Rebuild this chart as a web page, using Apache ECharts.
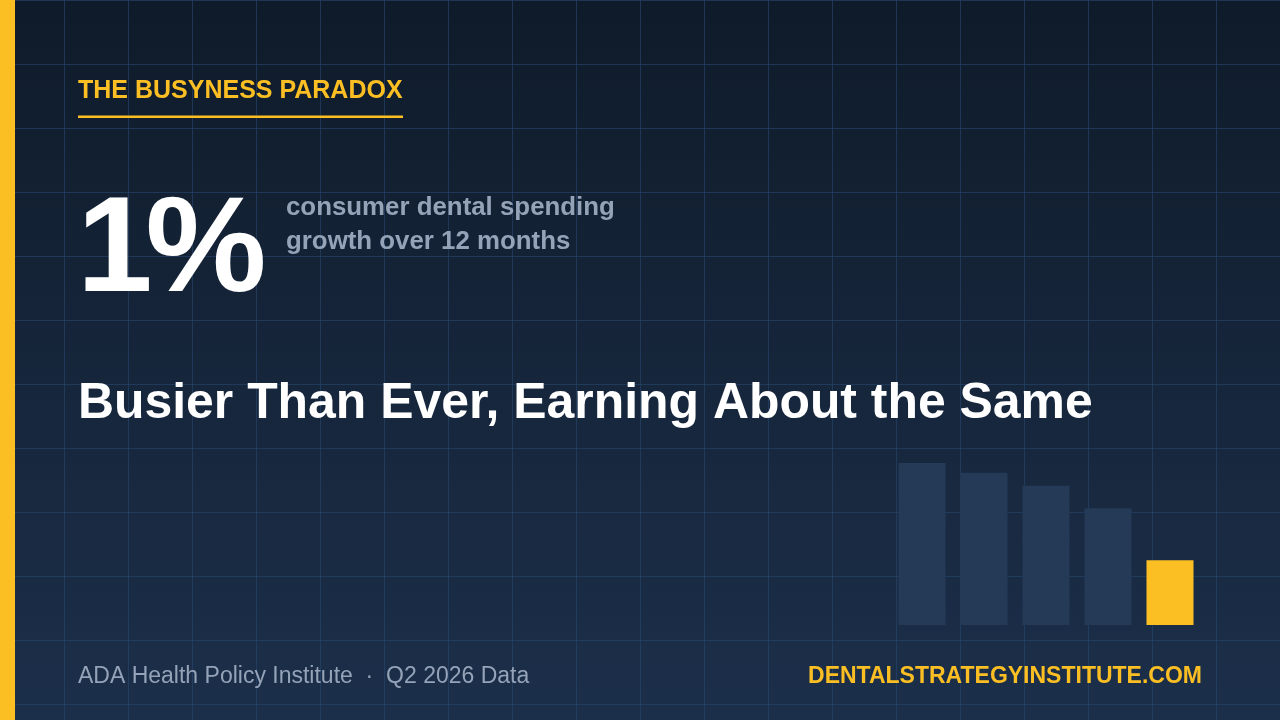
<!DOCTYPE html>
<html>
<head>
<meta charset="utf-8">
<script src="https://cdn.jsdelivr.net/npm/echarts@6/dist/echarts.min.js"></script>
<style>
html,body{margin:0;padding:0;background:#0f1b2b;}
#chart{width:1280px;height:720px;}
</style>
</head>
<body>
<div id="chart"></div>
<script>
// ---- data ----
var categories = ['P1', 'P2', 'P3', 'P4', 'P5'];
var barValues = [100, 94, 86, 72, 40];
var highlightIndex = 4;
var kicker = 'THE BUSYNESS PARADOX';
var bigStatNumber = '1';
var bigStatUnit = '%';
var statLines = ['consumer dental spending', 'growth over 12 months'];
var headline = 'Busier Than Ever, Earning About the Same';
var sourceText = 'ADA Health Policy Institute  \u00b7  Q2 2026 Data';
var siteText = 'DENTALSTRATEGYINSTITUTE.COM';

var W = 1280, H = 720;
var YELLOW = '#fbbf24';
var SLATE = '#94a3b8';
var FONT = 'Liberation Sans';

var chart = echarts.init(document.getElementById('chart'), null, {renderer: 'canvas'});

function txt(text, x, y, size, weight, color, align) {
  return {type: 'text', z: 10, silent: true,
    style: {text: text, x: x, y: y + size * 0.07, fill: color,
      fontFamily: FONT, fontSize: size, fontWeight: weight,
      textAlign: align || 'left', textVerticalAlign: 'middle'}};
}

var graphics = [];
graphics.push({
  type: 'rect', z: -100, silent: true,
  shape: {x: 0, y: 0, width: W, height: H},
  style: {fill: new echarts.graphic.LinearGradient(0, 0, 0, 1, [
    {offset: 0, color: '#0f1b2a'},
    {offset: 1, color: '#1c2f4a'}
  ])}
});
var lineColor = 'rgba(40,72,112,0.6)';
for (var x = 0; x <= W; x += 64) {
  graphics.push({type: 'line', z: -90, silent: true,
    shape: {x1: x + 0.5, y1: 0, x2: x + 0.5, y2: H},
    style: {stroke: lineColor, lineWidth: 1}});
}
for (var y = 0; y <= H; y += 64) {
  graphics.push({type: 'line', z: -90, silent: true,
    shape: {x1: 0, y1: y + 0.5, x2: W, y2: y + 0.5},
    style: {stroke: lineColor, lineWidth: 1}});
}
graphics.push({type: 'rect', z: 10, silent: true,
  shape: {x: 0, y: 0, width: 15, height: H}, style: {fill: YELLOW}});

graphics.push(txt(kicker, 78, 89, 25, 'bold', YELLOW));
graphics.push({type: 'rect', z: 10, silent: true,
  shape: {x: 78, y: 115.5, width: 325, height: 2.5}, style: {fill: YELLOW}});

graphics.push(txt(bigStatNumber, 77, 244, 136, 'bold', '#ffffff'));
graphics.push(txt(bigStatUnit, 145.5, 244, 136, 'bold', '#ffffff'));

var statY = [206.4, 240];
statLines.forEach(function (t, i) {
  graphics.push(txt(t, 286, statY[i], 25.85, 'bold', SLATE));
});

graphics.push(txt(headline, 78, 400.5, 49.9, 'bold', '#ffffff'));

graphics.push(txt(sourceText, 78, 675, 23, 'normal', SLATE));
graphics.push(txt(siteText, 1202, 675, 23, 'bold', YELLOW, 'right'));

var option = {
  animation: false,
  backgroundColor: 'transparent',
  graphic: {elements: graphics},
  grid: {left: 891, top: 463, width: 310, height: 162},
  xAxis: {
    type: 'category', data: categories,
    axisLine: {show: false}, axisTick: {show: false}, axisLabel: {show: false},
    splitLine: {show: false}
  },
  yAxis: {
    type: 'value', min: 0, max: 100,
    axisLine: {show: false}, axisTick: {show: false}, axisLabel: {show: false},
    splitLine: {show: false}
  },
  series: [{
    type: 'bar',
    barWidth: 47,
    data: barValues.map(function (v, i) {
      return {value: v, itemStyle: {color: i === highlightIndex ? YELLOW : '#243a57'}};
    }),
    silent: true,
    z: 5
  }]
};
chart.setOption(option);
</script>
</body>
</html>
